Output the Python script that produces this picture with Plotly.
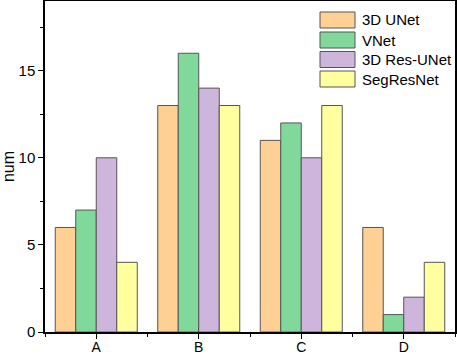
import plotly.graph_objects as go

categories = ["A", "B", "C", "D"]
series_names = ["3D UNet", "VNet", "3D Res-UNet", "SegResNet"]
unet3d = [6, 13, 11, 6]
vnet = [7, 16, 12, 1]
resunet3d = [10, 14, 10, 2]
segresnet = [4, 13, 13, 4]
colors = ["#FFD093", "#80D99B", "#CEB5DB", "#FFFF9F"]
edge = "#555555"

x = list(range(len(categories)))
fig = go.Figure()
for name, vals, c in zip(series_names, [unet3d, vnet, resunet3d, segresnet], colors):
    fig.add_trace(go.Bar(x=x, y=vals, name=name, showlegend=False,
                         marker=dict(color=c, line=dict(color=edge, width=1))))

# custom legend (wide swatches like the original)
L, T, B, R = 45, 1, 332, 455
def px(xp):
    return (xp - L) / (R - L)
def py(yp):
    return (B - yp) / (B - T)
row_centers = [20, 40, 59.5, 79]
for name, c, yc in zip(series_names, colors, row_centers):
    fig.add_shape(type="rect", xref="paper", yref="paper",
                  x0=px(320), x1=px(355), y0=py(yc + 8), y1=py(yc - 8),
                  fillcolor=c, line=dict(color=edge, width=1))
    fig.add_annotation(xref="paper", yref="paper", x=px(360), y=py(yc), text=name,
                       showarrow=False, xanchor="left", yanchor="middle",
                       font=dict(size=15, color="black"))

font = "Liberation Sans, Arial, sans-serif"
fig.update_layout(
    width=457, height=356,
    margin=dict(l=L, r=457 - R, t=T, b=356 - B, autoexpand=False),
    barmode="group", bargap=0.2, bargroupgap=0,
    plot_bgcolor="white", paper_bgcolor="white",
    font=dict(family=font, size=15, color="black"),
    xaxis=dict(range=[-0.5, 3.5], tickvals=x, ticktext=categories, ticks="outside", ticklen=5,
               tickcolor="black", showline=True, linecolor="black", linewidth=1.5, mirror=True,
               showgrid=False, zeroline=False, automargin=False,
               tickfont=dict(size=14), ticklabelstandoff=-4,
               minor=dict(tick0=0.5, dtick=1, ticks="outside", ticklen=3, tickcolor="black")),
    yaxis=dict(range=[0, 19], tickvals=[0, 5, 10, 15], ticks="outside", ticklen=5, tickcolor="black",
               showline=True, linecolor="black", linewidth=1.5, mirror=True,
               showgrid=False, zeroline=False, automargin=False,
               title=dict(text="num", standoff=6, font=dict(size=16)),
               minor=dict(tick0=0, dtick=2.5, ticks="outside", ticklen=3, tickcolor="black")),
)
fig.write_html("out.html", config={"displayModeBar": False},
               post_script="document.body.style.margin='0';")
